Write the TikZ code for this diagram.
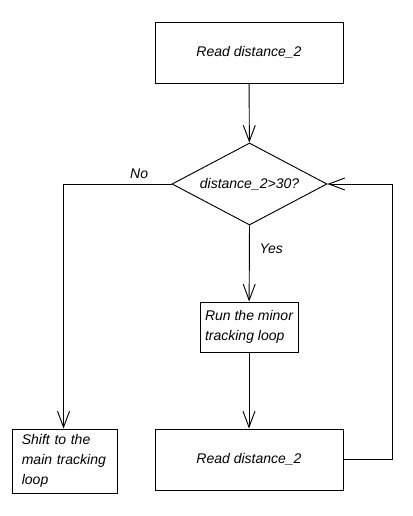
\documentclass[tikz,border=0pt]{standalone}
\usepackage{fontspec}
\setmainfont{Liberation Sans}
\usetikzlibrary{shapes.geometric,arrows.meta}

\begin{document}
\begin{tikzpicture}[x=0.75pt,y=-0.75pt,line width=0.7pt,
    every node/.style={font=\itshape\fontsize{10.5}{15}\selectfont},
    procbox/.style={draw,rectangle,inner sep=0pt},
    testbox/.style={draw,diamond,aspect=1.89,inner sep=0pt,minimum width=116.25pt,minimum height=61.5pt},
    flow/.style={-{Straight Barb[length=12pt,width=9pt]}}]
        % Frame
        \useasboundingbox (0,0) rectangle (412,516);

        % Boxes
        \node[procbox,minimum width=141pt,minimum height=45.75pt] (read1) at (249,52.5) {Read distance\_2};
        \node[testbox] (test) at (249.5,184) {distance\_2>30?};
        \node[procbox,minimum width=73.5pt,minimum height=37.5pt,align=left] (minor) at (249,327) {Run the minor\\tracking loop};
        \node[procbox,minimum width=78.75pt,minimum height=48pt,align=left,text width=64pt] (shift) at (64.5,461) {Shift to the\\main tracking\\loop};
        \node[procbox,minimum width=141pt,minimum height=45.75pt] (read2) at (249,459.5) {Read distance\_2};

        % Connectors
        \draw[flow] (read1) -- (test);
        \draw[flow] (test.south) -- node[pos=0.3,right=4pt] {Yes} (minor);
        \draw[flow] (minor) -- (read2);
        \draw[flow] (test.west) -- node[pos=0.3,above] {No} ++(-108,0) coordinate (nocorner) -- (nocorner |- shift.north);
        \draw[flow] (read2.east) -- ++(49,0) coordinate (backcorner) |- (test.east);
      \end{tikzpicture}
\end{document}
